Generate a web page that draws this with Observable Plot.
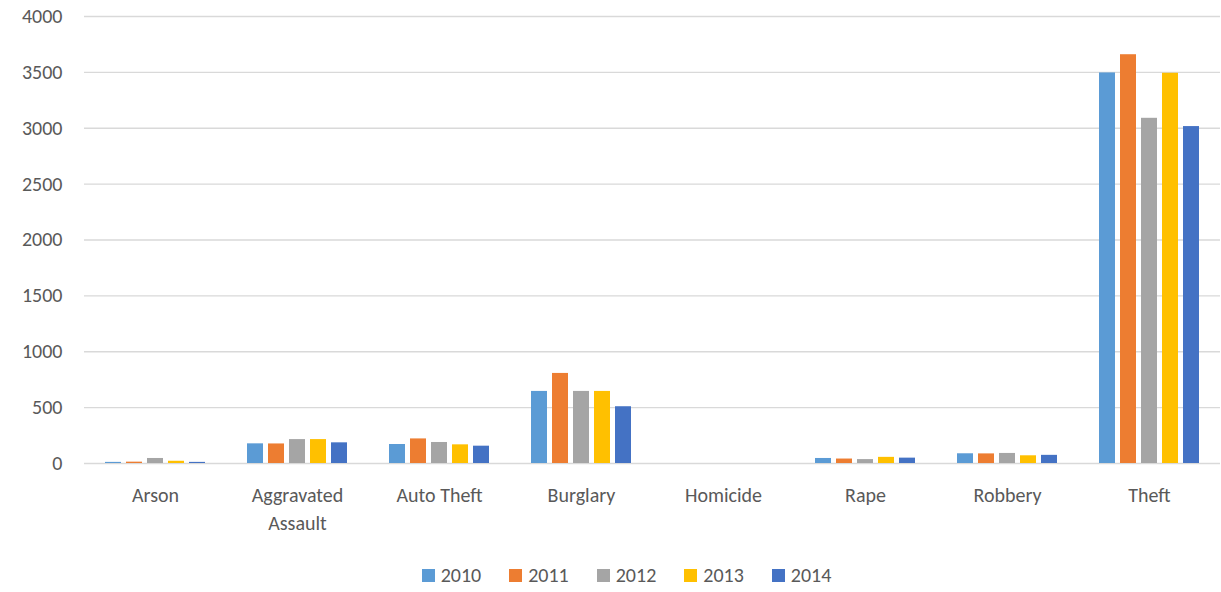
<!DOCTYPE html>
<html>
<head>
<meta charset="utf-8">
<script src="https://cdn.jsdelivr.net/npm/d3@7"></script>
<script src="https://cdn.jsdelivr.net/npm/@observablehq/plot@0.6"></script>
<style>
  body { margin: 0; background: #fff; font-family: Carlito, Calibri, Lato, "Open Sans", sans-serif; }
  #chart svg text { font-size: 20px !important; }
  #legend { display: flex; justify-content: center; margin-top: 20px; padding-left: 32px; height: 24px; align-items: center; }
  #legend * { font-size: 20px !important; color: #595959 !important; font-family: Carlito, Calibri, Lato, "Open Sans", sans-serif !important; }
  #legend span { margin-right: 28px !important; }
  #legend span:last-child { margin-right: 0 !important; }
  #legend svg { margin-right: 6px !important; }
</style>
</head>
<body>
<div id="chart"></div>
<div id="legend"></div>
<script>
const categories = ["Arson", "Aggravated Assault", "Auto Theft", "Burglary", "Homicide", "Rape", "Robbery", "Theft"];
const years = ["2010", "2011", "2012", "2013", "2014"];
const colors = ["#5B9BD5", "#ED7D31", "#A5A5A5", "#FFC000", "#4472C4"];
const v2010 = [10, 176, 170, 645, 0, 45, 87, 3495];
const v2011 = [12, 175, 220, 806, 0, 40, 86, 3658];
const v2012 = [45, 214, 188, 645, 0, 35, 90, 3089];
const v2013 = [20, 214, 167, 645, 0, 55, 69, 3492];
const v2014 = [10, 185, 155, 508, 0, 48, 73, 3015];
const yTicks = [0, 500, 1000, 1500, 2000, 2500, 3000, 3500, 4000];

const series = [v2010, v2011, v2012, v2013, v2014];
const data = [];
categories.forEach((c, i) => years.forEach((y, j) => data.push({category: c, year: y, value: series[j][i]})));

const font = "Carlito, Calibri, Lato, 'Open Sans', sans-serif";

const chart = Plot.plot({
  width: 1221,
  height: 548,
  marginLeft: 82,
  marginRight: 0,
  marginTop: 16,
  marginBottom: 85,
  style: {fontFamily: font, fontSize: "20px", color: "#595959", background: "#fff"},
  fx: {domain: categories, padding: 0, label: null},
  x: {domain: years, paddingInner: 0.227, paddingOuter: 0.85, axis: null},
  y: {domain: [0, 4000], label: null},
  color: {domain: years, range: colors},
  marks: [
    Plot.ruleY(yTicks, {stroke: "#d9d9d9", strokeWidth: 1.4}),
    Plot.barY(data, {fx: "category", x: "year", y: "value", fill: "year"}),
    Plot.axisY(yTicks, {tickSize: 0, tickPadding: 22, tickFormat: d3.format("d"), fill: "#595959", fontSize: 20, label: null}),
    Plot.axisFx({tickSize: 0, tickPadding: 19, lineWidth: 6, lineHeight: 1.4, fill: "#595959", fontSize: 20, label: null, anchor: "bottom"})
  ]
});
document.getElementById("chart").appendChild(chart);

const legend = Plot.legend({
  color: {domain: years, range: colors, type: "ordinal"},
  legend: "swatches",
  swatchSize: 13,
  style: {fontFamily: font, fontSize: "20px", color: "#595959"}
});
document.getElementById("legend").appendChild(legend);
</script>
</body>
</html>
